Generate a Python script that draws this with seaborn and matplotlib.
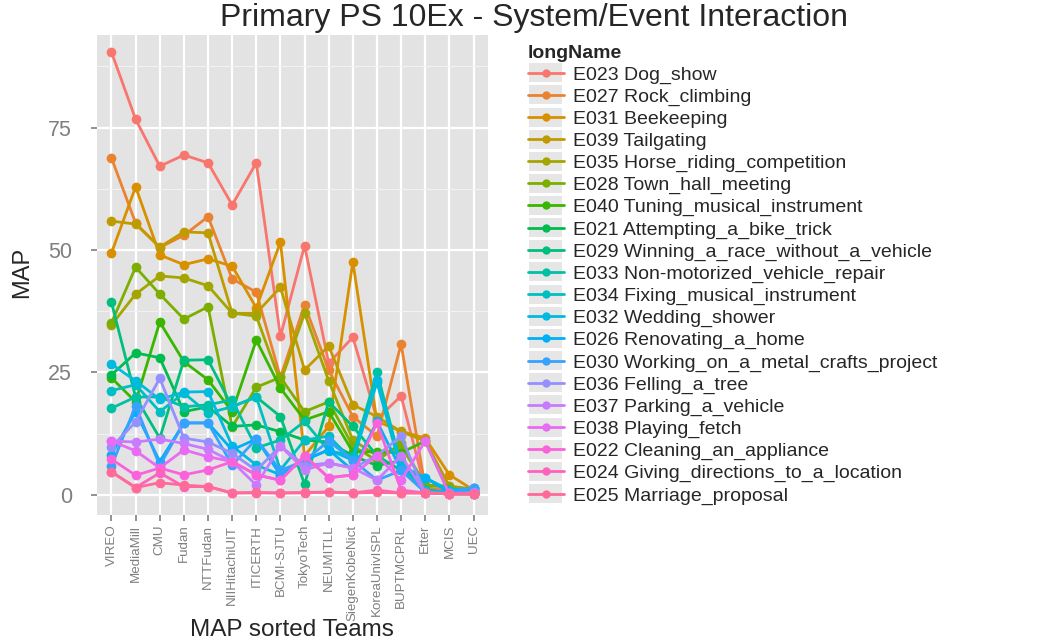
import numpy as np
import pandas as pd
import matplotlib
matplotlib.use("Agg")
import matplotlib.pyplot as plt
import seaborn as sns
from matplotlib.patches import Rectangle
from matplotlib.ticker import FixedLocator

# teams, sorted by MAP
teams = ["VIREO", "MediaMill", "CMU", "Fudan", "NTTFudan", "NIIHitachiUIT",
         "ITICERTH", "BCMI-SJTU", "TokyoTech", "NEUMITLL", "SiegenKobeNict",
         "KoreaUnivISPL", "BUPTMCPRL", "Etter", "MCIS", "UEC"]

events = ["E023 Dog_show", "E027 Rock_climbing", "E031 Beekeeping", "E039 Tailgating",
          "E035 Horse_riding_competition", "E028 Town_hall_meeting",
          "E040 Tuning_musical_instrument", "E021 Attempting_a_bike_trick",
          "E029 Winning_a_race_without_a_vehicle", "E033 Non-motorized_vehicle_repair",
          "E034 Fixing_musical_instrument", "E032 Wedding_shower",
          "E026 Renovating_a_home", "E030 Working_on_a_metal_crafts_project",
          "E036 Felling_a_tree", "E037 Parking_a_vehicle", "E038 Playing_fetch",
          "E022 Cleaning_an_appliance", "E024 Giving_directions_to_a_location",
          "E025 Marriage_proposal"]

# MAP values per event, same order as teams
e023 = [90.4, 76.7, 67.1, 69.4, 67.8, 59.2, 67.8, 32.4, 50.9, 26.9, 32.2, 15.5, 20.2, 1.2, 0.8, 0.6]
e027 = [68.8, 55.5, 50.5, 53.0, 56.8, 44.1, 41.4, 24.0, 38.8, 25.5, 16.0, 12.0, 30.8, 1.5, 0.8, 0.6]
e031 = [49.4, 62.9, 49.0, 47.0, 48.2, 46.7, 38.2, 51.6, 8.0, 14.0, 47.6, 15.0, 13.0, 11.6, 4.1, 1.0]
e039 = [55.9, 55.3, 50.6, 53.7, 53.5, 37.1, 37.1, 42.4, 25.5, 30.4, 18.4, 16.0, 12.9, 11.0, 1.8, 1.2]
e035 = [34.7, 41.0, 44.7, 44.3, 42.7, 37.1, 36.5, 23.0, 37.1, 23.3, 11.2, 8.0, 10.0, 2.0, 1.8, 0.8]
e028 = [35.1, 46.5, 41.0, 35.9, 38.4, 13.9, 22.0, 24.0, 17.0, 19.0, 10.0, 7.0, 10.5, 2.0, 1.5, 0.5]
e040 = [23.9, 19.0, 35.3, 27.2, 23.5, 17.0, 31.6, 21.8, 15.3, 17.0, 8.8, 8.8, 8.6, 11.0, 0.2, 0.2]
e021 = [24.5, 29.0, 28.0, 17.0, 18.0, 14.0, 14.3, 12.9, 11.2, 10.8, 8.0, 6.0, 7.0, 1.0, 0.3, 0.2]
e029 = [39.3, 20.0, 11.6, 27.5, 27.6, 18.0, 20.0, 16.0, 2.2, 19.0, 14.0, 8.0, 5.0, 1.0, 0.4, 0.3]
e033 = [17.7, 20.0, 20.0, 18.0, 18.4, 19.4, 9.6, 11.2, 15.0, 9.0, 8.0, 25.1, 6.0, 1.0, 0.5, 0.4]
e034 = [21.3, 22.5, 17.0, 20.8, 16.7, 18.0, 20.0, 5.1, 11.2, 12.0, 7.0, 23.0, 5.0, 1.0, 0.5, 0.5]
e032 = [26.7, 23.3, 19.5, 21.0, 21.1, 10.0, 6.1, 4.1, 7.1, 9.2, 7.1, 23.5, 6.0, 3.5, 1.0, 1.4]
e026 = [8.2, 17.0, 6.8, 14.7, 14.7, 9.2, 11.4, 4.1, 7.1, 9.2, 5.0, 15.0, 5.1, 3.5, 0.5, 1.4]
e030 = [5.9, 18.2, 6.0, 14.7, 14.7, 6.1, 11.4, 5.0, 7.0, 11.0, 7.1, 3.0, 5.0, 0.5, 0.5, 1.5]
e036 = [9.8, 14.9, 23.8, 11.6, 10.8, 8.5, 5.0, 10.0, 6.0, 6.5, 5.5, 8.0, 12.0, 0.4, 0.3, 0.5]
e037 = [11.0, 10.8, 11.4, 10.5, 9.3, 6.8, 2.0, 10.0, 5.1, 6.5, 5.5, 3.0, 8.0, 0.4, 0.3, 0.3]
e038 = [11.0, 9.0, 5.5, 9.2, 7.8, 6.8, 4.1, 3.0, 8.0, 3.5, 4.1, 8.0, 3.0, 11.0, 0.2, 0.3]
e022 = [7.3, 4.0, 5.5, 4.1, 5.1, 6.8, 4.1, 3.0, 8.0, 3.5, 4.1, 14.7, 1.0, 0.4, 0.2, 0.2]
e024 = [4.7, 1.5, 4.5, 1.7, 1.7, 0.4, 0.4, 0.4, 0.4, 0.6, 0.4, 1.0, 0.4, 0.4, 0.2, 0.2]
e025 = [4.7, 1.5, 2.5, 2.0, 1.7, 0.4, 0.5, 0.4, 0.5, 0.6, 0.4, 0.5, 0.4, 0.4, 0.2, 0.2]

series = [e023, e027, e031, e039, e035, e028, e040, e021, e029, e033,
          e034, e032, e026, e030, e036, e037, e038, e022, e024, e025]

rows = []
for name, vals in zip(events, series):
    for t, v in zip(teams, vals):
        rows.append({"team": t, "MAP": v, "longName": name})
df = pd.DataFrame(rows)


# ggplot2 default hue palette (polar LUV, c=100, l=65)
def hcl_to_hex(h, c=100, l=65):
    hr = np.radians(h)
    u, v = c * np.cos(hr), c * np.sin(hr)
    Xn, Yn, Zn = 95.047, 100.0, 108.883
    un = 4 * Xn / (Xn + 15 * Yn + 3 * Zn)
    vn = 9 * Yn / (Xn + 15 * Yn + 3 * Zn)
    Y = Yn * ((l + 16) / 116) ** 3
    up = u / (13 * l) + un
    vp = v / (13 * l) + vn
    X = 9 * Y * up / (4 * vp)
    Z = -X / 3 - 5 * Y + 3 * Y / vp
    xyz = np.array([X, Y, Z]) / 100
    m = np.array([[3.240479, -1.537150, -0.498535],
                  [-0.969256, 1.875992, 0.041556],
                  [0.055648, -0.204043, 1.057311]])
    rgb = m @ xyz
    rgb = np.where(rgb > 0.0031308, 1.055 * np.abs(rgb) ** (1 / 2.4) - 0.055, 12.92 * rgb)
    rgb = np.clip(rgb, 0, 1)
    return matplotlib.colors.to_hex(rgb)


hues = np.linspace(15, 375, len(events) + 1)[:-1]
pal = dict(zip(events, [hcl_to_hex(h) for h in hues]))

sns.set_theme(style="darkgrid", rc={
    "axes.facecolor": "#E3E3E3",
    "grid.color": "white",
    "grid.linewidth": 1.6,
    "xtick.bottom": True, "ytick.left": True,
    "xtick.color": "#7F7F7F", "ytick.color": "#7F7F7F",
    "xtick.major.size": 4, "ytick.major.size": 4,
    "xtick.major.width": 1.2, "ytick.major.width": 1.2,
})
plt.rcParams["font.family"] = ["Liberation Sans", "DejaVu Sans"]

fig = plt.figure(figsize=(10.37, 6.43), dpi=100)
ax = fig.add_axes([97 / 1037, 1 - 515 / 643, 391 / 1037, 480 / 643])

sns.lineplot(data=df, x="team", y="MAP", hue="longName", hue_order=events,
             palette=pal, marker="o", markersize=7, markeredgewidth=0,
             linewidth=2.0, sort=False, errorbar=None, ax=ax)

ax.set_xlim(-0.6, 15.6)
ax.set_ylim(-4.1, 93.9)
ax.set_yticks([0, 25, 50, 75])
ax.yaxis.set_minor_locator(FixedLocator([12.5, 37.5, 62.5, 87.5]))
ax.grid(which="minor", axis="y", color="#F2F2F2", linewidth=0.8)
ax.tick_params(which="minor", length=0)
ax.tick_params(axis="y", labelsize=15.5, pad=14)
ax.tick_params(axis="x", labelsize=9.6, pad=3)
plt.setp(ax.get_xticklabels(), rotation=90)
ax.set_xlabel("")
ax.set_ylabel("")
for s in ax.spines.values():
    s.set_visible(False)

fig.text(0.515, 1 - 18 / 643, "Primary PS 10Ex - System/Event Interaction",
         ha="center", va="center", fontsize=23)
fig.text(22 / 1037, 1 - 272 / 643, "MAP", rotation=90, ha="center",
         va="center", fontsize=17)
fig.text(292 / 1037, 1 - 630 / 643, "MAP sorted Teams", ha="center",
         va="center", fontsize=17.5)

handles, labels = ax.get_legend_handles_labels()
ax.get_legend().remove()
leg = fig.legend(handles, labels, title="longName", loc="upper left",
                 bbox_to_anchor=(510 / 1037, 1 - 27 / 643), frameon=False,
                 fontsize=14, labelspacing=0.225, handlelength=1.9,
                 handletextpad=0.45, alignment="left",
                 title_fontproperties={"weight": "bold", "size": 14})
for h in leg.legend_handles:
    h.set_linewidth(2.0)
    h.set_markersize(6)

# grey key boxes like ggplot legend keys
fig.canvas.draw()
r = fig.canvas.get_renderer()
W, H = fig.bbox.width, fig.bbox.height
for h in leg.legend_handles:
    bb = h.get_window_extent(r)
    cx, cy = (bb.x0 + bb.x1) / 2, (bb.y0 + bb.y1) / 2
    fig.add_artist(Rectangle(((cx - 16.5) / W, (cy - 9.5) / H), 33 / W, 19 / H,
                             transform=fig.transFigure, facecolor="#E6E6E6",
                             edgecolor="none", zorder=0.5))

fig.savefig("out.png", dpi=100)
